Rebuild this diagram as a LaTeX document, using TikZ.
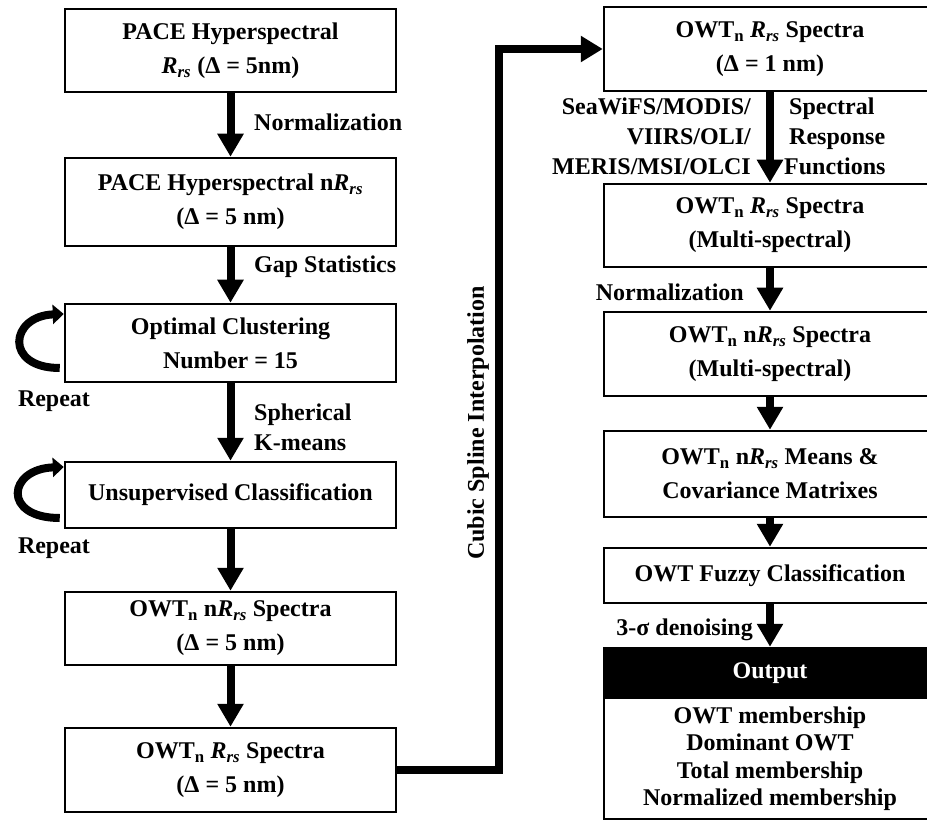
\documentclass[tikz,border=0pt]{standalone}
\usepackage{fontspec}
\setmainfont{Liberation Serif}
\usetikzlibrary{arrows.meta,calc}
\newcommand{\rrs}{\textit{R}\textsubscript{\textit{rs}}}
\newcommand{\owtn}{OWT\textsubscript{n}}
\begin{document}
\begin{tikzpicture}[x=1pt,y=-1pt,
  box/.style={draw, line width=2.5pt, minimum width=331pt, inner sep=0pt, align=center, font=\fontsize{24}{34}\selectfont\bfseries},
  flow/.style={line width=8pt, -{Triangle[width=25pt,length=23pt]}},
  lbl/.style={font=\fontsize{24}{30}\selectfont\bfseries, inner sep=0pt},
  rep/.style={line width=8pt, -{Triangle[width=19pt,length=11pt]}}
]
\useasboundingbox (0,0) rectangle (927,821);
\clip (0,0) rectangle (927,821);
% left column
\node[box, minimum height=83pt] (b1) at (230.5,50.5) {PACE Hyperspectral\\\rrs{} (Δ = 5nm)};
\node[box, minimum height=88pt] (b2) at (230.5,202) {PACE Hyperspectral n\rrs\\(Δ = 5 nm)};
\node[box, minimum height=78pt] (b3) at (230.5,343) {Optimal Clustering\\Number = 15};
\node[box, minimum height=66pt] (b4) at (230.5,495) {Unsupervised Classification};
\node[box, minimum height=73pt] (b5) at (230.5,628.5) {\owtn{} n\rrs{} Spectra\\(Δ = 5 nm)};
\node[box, minimum height=84pt] (b6) at (230.5,770) {\owtn{} \rrs{} Spectra\\(Δ = 5 nm)};
% right column
\node[box, minimum width=332pt, minimum height=84pt] (r1) at (770,49) {\owtn{} \rrs{} Spectra\\(Δ = 1 nm)};
\node[box, minimum width=332pt, minimum height=83pt] (r2) at (770,225.5) {\owtn{} \rrs{} Spectra\\(Multi-spectral)};
\node[box, minimum width=332pt, minimum height=84pt] (r3) at (770,354) {\owtn{} n\rrs{} Spectra\\(Multi-spectral)};
\node[box, minimum width=332pt, minimum height=86pt] (r4) at (770,474) {\owtn{} n\rrs{} Means \&\\Covariance Matrixes};
\node[box, minimum width=332pt, minimum height=55pt] (r5) at (770,575.5) {OWT Fuzzy Classification};
\node[box, minimum width=332pt, minimum height=50pt, fill=black, text=white] (oh) at (770,673) {Output};
\node[box, minimum width=332pt, minimum height=121pt, font=\fontsize{24}{27.5}\selectfont\bfseries] (ob) at (770,758.5) {OWT membership\\Dominant OWT\\Total membership\\Normalized membership};
% left arrows
\draw[flow] (b1.south) -- (b2.north);
\draw[flow] (b2.south) -- (b3.north);
\draw[flow] (b3.south) -- (b4.north);
\draw[flow] (b4.south) -- (b5.north);
\draw[flow] (b5.south) -- (b6.north);
% right arrows
\draw[flow] (r1.south) -- (r2.north);
\draw[flow] (r2.south) -- (r3.north);
\draw[flow] (r3.south) -- (r4.north);
\draw[flow] (r4.south) -- (r5.north);
\draw[flow] (r5.south) -- (oh.north);
% connector
\coordinate (cx) at (499,0);
\draw[line width=8pt, line join=miter, -{Triangle[width=25pt,length=22pt]}] (b6.east) -- (b6.east -| cx) -- (cx |- r1.west) -- (r1.west);
\node[lbl, rotate=90] (cs) at (478,423) {Cubic Spline Interpolation};
% repeat loops
\draw[rep] ($(b3.west)+(-4,25)$) .. controls ($(b3.west)+(-60,25)$) and ($(b3.west)+(-54,-27)$) .. ($(b3.west)+(0,-29)$);
\draw[rep] ($(b4.west)+(-4,23)$) .. controls ($(b4.west)+(-62,23)$) and ($(b4.west)+(-56,-26)$) .. ($(b4.west)+(0,-28)$);
\node[lbl] (rp1) at (54,401) {Repeat};
\node[lbl] (rp2) at (54,548) {Repeat};
% labels
\node[lbl, anchor=west] (n1) at (254,122) {Normalization};
\node[lbl, anchor=west] (gs) at (254,267) {Gap Statistics};
\node[lbl, anchor=west, align=left] (sk) at (254,427) {Spherical\\K-means};
\node[lbl, anchor=east, align=right] (sen) at (751,136) {SeaWiFS/MODIS/\\VIIRS/OLI/\\MERIS/MSI/OLCI};
\node[lbl, anchor=west, align=left] (srf) at (789,136) {Spectral\\Response\\\hspace*{-5pt}Functions};
\node[lbl, anchor=east] (n2) at (744,292) {Normalization};
\node[lbl, anchor=east] (dn) at (753,630) {3-σ denoising};
\end{tikzpicture}
\end{document}
